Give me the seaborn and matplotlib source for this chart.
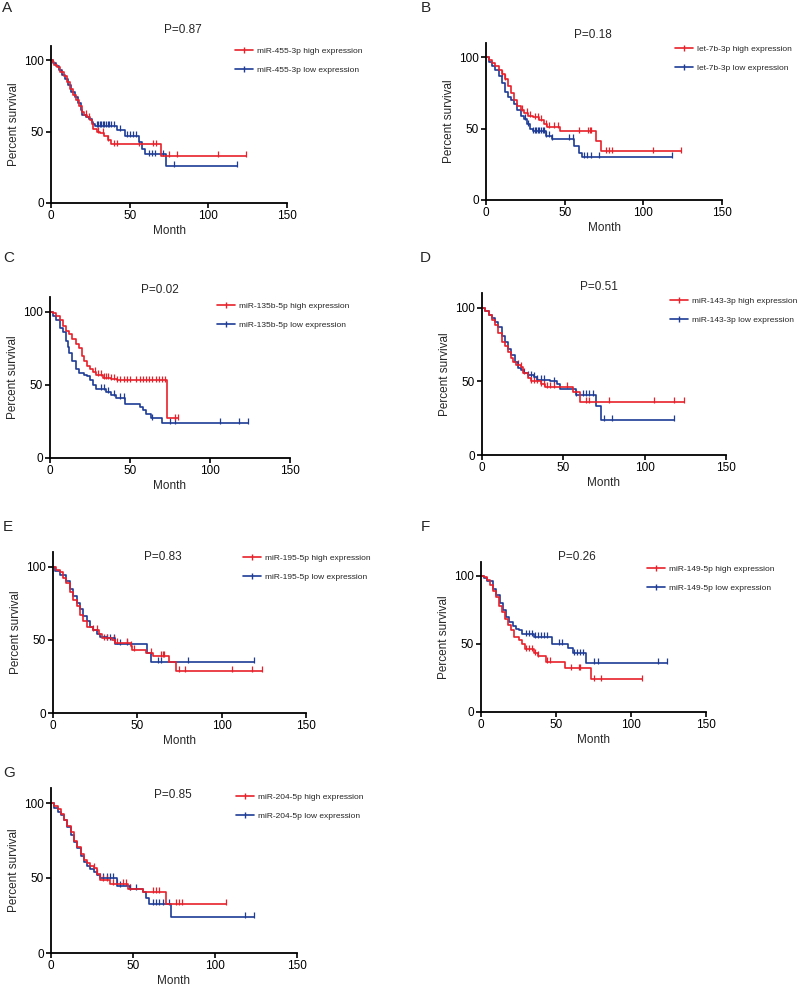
import numpy as np
import pandas as pd
import matplotlib
matplotlib.use("Agg")
import matplotlib.pyplot as plt
from matplotlib.lines import Line2D
import seaborn as sns

# panel labels, miRNA names and log-rank p values
letters = ["A", "B", "C", "D", "E", "F", "G"]
mirnas = ["miR-455-3p", "let-7b-3p", "miR-135b-5p", "miR-143-3p",
          "miR-195-5p", "miR-149-5p", "miR-204-5p"]
p_values = ["0.87", "0.18", "0.02", "0.51", "0.83", "0.26", "0.85"]

# Kaplan-Meier steps: (month, percent survival), last point = end of follow-up
A_high = [(0, 100), (1, 99), (2, 97), (4, 95), (6, 92), (8, 89), (10, 85), (12, 80), (14, 76), (16, 72),
          (18, 68), (20, 64), (21, 62), (23, 60), (25, 58), (26, 55), (27, 52), (29, 50), (31, 49),
          (34, 47), (36, 44), (38, 41), (70, 33), (124, 33)]
A_high_cens = [22, 24, 30, 33, 36, 40, 42, 56, 65, 67, 75, 80, 106, 124]
A_low = [(0, 100), (1, 98), (3, 96), (5, 93), (7, 90), (9, 87), (11, 83), (13, 78), (15, 74), (17, 70),
         (19, 65), (20, 62), (22, 60), (24, 59), (26, 57), (27, 55), (28, 54), (42, 51), (47, 47),
         (56, 43), (58, 38), (60, 34), (73, 26), (118, 26)]
A_low_cens = [29, 30, 31, 32, 33, 34, 35, 36, 37, 38, 40, 44, 48, 50, 52, 54, 62, 64, 66, 71, 78, 118]

B_high = [(0, 100), (2, 98), (4, 96), (6, 94), (8, 91), (10, 88), (12, 85), (14, 80), (16, 75), (18, 70),
          (20, 66), (22, 63), (24, 61), (27, 59), (30, 58), (34, 56), (37, 53), (39, 51), (47, 48),
          (70, 41), (73, 34), (124, 34)]
B_high_cens = [10, 12, 23, 26, 28, 31, 33, 35, 38, 40, 43, 46, 59, 65, 66, 67, 76, 78, 80, 106, 124]
B_low = [(0, 100), (2, 97), (4, 94), (6, 91), (8, 87), (10, 82), (12, 76), (14, 72), (16, 70), (18, 67),
         (20, 63), (22, 59), (24, 57), (26, 53), (28, 50), (30, 48), (38, 45), (42, 43), (56, 38),
         (59, 33), (61, 30), (118, 30)]
B_low_cens = [25, 27, 30, 31, 32, 33, 34, 35, 36, 37, 38, 40, 42, 53, 55, 62, 64, 67, 72, 118]

C_high = [(0, 100), (2, 99), (4, 97), (6, 94), (8, 90), (10, 87), (12, 85), (14, 81), (16, 78), (18, 75),
          (20, 70), (21, 66), (23, 63), (25, 61), (27, 59), (29, 57), (33, 55), (38, 54), (42, 53),
          (73, 27), (80, 27)]
C_high_cens = [28, 30, 32, 34, 35, 36, 38, 40, 42, 44, 46, 48, 50, 54, 56, 58, 60, 62, 64, 66, 68, 70,
               72, 78, 80]
C_low = [(0, 100), (2, 97), (4, 94), (6, 89), (8, 86), (10, 80), (11, 76), (12, 72), (14, 66), (16, 61),
         (18, 58), (21, 57), (23, 56), (25, 53), (27, 50), (29, 47), (35, 45), (38, 43), (41, 41),
         (47, 37), (56, 35), (58, 33), (60, 30), (63, 27), (70, 24), (124, 24)]
C_low_cens = [32, 34, 36, 40, 44, 46, 64, 75, 78, 106, 118, 124]

D_high = [(0, 100), (2, 98), (4, 95), (6, 92), (8, 88), (10, 83), (12, 77), (14, 74), (16, 70), (18, 66),
          (19, 63), (21, 61), (24, 60), (25, 56), (28, 52), (30, 50), (36, 48), (39, 46), (56, 43),
          (60, 36), (124, 36)]
D_high_cens = [22, 24, 26, 30, 32, 34, 36, 38, 40, 42, 44, 52, 64, 66, 78, 106, 118, 124]
D_low = [(0, 100), (2, 98), (4, 95), (6, 93), (8, 90), (10, 87), (12, 81), (14, 77), (16, 72), (18, 68),
         (20, 63), (22, 59), (24, 58), (26, 56), (28, 54), (32, 53), (34, 51), (42, 50), (46, 48),
         (48, 45), (58, 41), (70, 33), (73, 24), (118, 24)]
D_low_cens = [28, 30, 32, 34, 36, 38, 44, 58, 62, 64, 66, 68, 75, 80, 118]

E_high = [(0, 100), (2, 98), (4, 96), (6, 92), (8, 89), (10, 83), (12, 77), (14, 73), (16, 67), (18, 63),
          (20, 59), (24, 57), (27, 54), (29, 51), (35, 50), (37, 48), (46, 46), (47, 43), (55, 41),
          (59, 39), (69, 35), (73, 29), (124, 29)]
E_high_cens = [24, 26, 30, 32, 36, 38, 44, 46, 48, 58, 64, 65, 66, 75, 78, 106, 118, 124]
E_low = [(0, 100), (1, 97), (4, 94), (8, 90), (10, 85), (12, 80), (14, 75), (16, 71), (18, 66), (20, 63),
         (22, 59), (24, 57), (26, 54), (28, 52), (32, 51), (37, 47), (56, 41), (58, 35), (119, 35)]
E_low_cens = [32, 34, 36, 40, 44, 62, 64, 80, 119]

F_high = [(0, 100), (2, 99), (4, 97), (6, 93), (8, 89), (10, 84), (12, 78), (14, 73), (16, 68), (18, 64),
          (20, 60), (22, 55), (25, 53), (27, 50), (29, 46), (35, 43), (38, 41), (43, 37), (56, 32),
          (73, 24), (107, 24)]
F_high_cens = [30, 32, 34, 36, 38, 44, 46, 60, 65, 66, 75, 80, 107]
F_low = [(0, 100), (2, 98), (4, 96), (8, 90), (10, 86), (13, 80), (15, 75), (17, 70), (19, 66), (21, 63),
         (23, 61), (25, 60), (27, 57), (35, 55), (47, 50), (58, 47), (61, 43), (70, 36), (124, 36)]
F_low_cens = [30, 32, 34, 36, 38, 40, 42, 44, 52, 54, 62, 64, 66, 68, 75, 78, 118, 124]

G_high = [(0, 100), (2, 98), (4, 96), (6, 93), (8, 89), (10, 85), (12, 81), (14, 75), (16, 71), (18, 66),
          (20, 62), (22, 60), (24, 58), (26, 57), (28, 53), (30, 49), (36, 46), (47, 43), (56, 41),
          (70, 33), (107, 33)]
G_high_cens = [26, 28, 32, 34, 38, 40, 44, 46, 48, 62, 64, 66, 76, 78, 80, 107]
G_low = [(0, 100), (2, 97), (4, 94), (6, 92), (8, 89), (10, 84), (12, 79), (14, 74), (16, 70), (18, 65),
         (20, 61), (22, 58), (24, 56), (26, 54), (28, 52), (30, 50), (40, 45), (48, 43), (56, 41),
         (58, 37), (60, 33), (73, 24), (124, 24)]
G_low_cens = [30, 32, 34, 36, 38, 42, 48, 52, 62, 64, 66, 68, 72, 118, 124]

curves = [
    (A_high, A_high_cens, A_low, A_low_cens),
    (B_high, B_high_cens, B_low, B_low_cens),
    (C_high, C_high_cens, C_low, C_low_cens),
    (D_high, D_high_cens, D_low, D_low_cens),
    (E_high, E_high_cens, E_low, E_low_cens),
    (F_high, F_high_cens, F_low, F_low_cens),
    (G_high, G_high_cens, G_low, G_low_cens),
]

# layout in pixels: axes (left, x=150 edge, y=0 edge, top), title center, legend anchor, letter pos
W, H = 800, 986
axes_px = [(51, 287, 203, 46), (486, 722, 200, 43), (50, 290, 458, 297), (482, 726, 455, 293),
           (53, 306, 713, 552), (481, 706, 712, 562), (51, 297, 953, 788)]
title_px = [(183, 30), (593, 35), (160, 290), (599, 287), (163, 557), (577, 557), (173, 795)]
legend_px = [(235, 47), (675, 45), (217, 302), (670, 297), (243, 554), (647, 565), (236, 793)]
letter_px = [(2, 8), (421, 8), (3, 258), (420, 258), (3, 527), (421, 527), (3, 773)]

RED = "#E8202A"
BLUE = "#1E3C96"

sns.set_style("ticks")
plt.rcParams["font.family"] = ["Liberation Sans", "DejaVu Sans"]

fig = plt.figure(figsize=(W / 100, H / 100), dpi=100)


def step_value(points, t):
    ts = np.array([p[0] for p in points])
    ss = np.array([p[1] for p in points])
    idx = np.searchsorted(ts, t, side="right") - 1
    return ss[idx]


for i in range(7):
    l, r, b, t = axes_px[i]
    ax = fig.add_axes([l / W, 1 - b / H, (r - l) / W, (b - t) / H])
    high, high_c, low, low_c = curves[i]

    for pts, cens, col in [(low, low_c, BLUE), (high, high_c, RED)]:
        df = pd.DataFrame(pts, columns=["month", "survival"])
        sns.lineplot(data=df, x="month", y="survival", drawstyle="steps-post",
                     color=col, linewidth=1.2, errorbar=None, ax=ax)
        cdf = pd.DataFrame({"month": cens, "survival": [step_value(pts, c) + 1.2 for c in cens]})
        sns.scatterplot(data=cdf, x="month", y="survival", marker="|", s=14,
                        color=col, linewidth=0.9, ax=ax)

    ax.set_xlim(0, 150)
    ax.set_ylim(0, 110)
    ax.set_xticks([0, 50, 100, 150])
    ax.set_yticks([0, 50, 100])
    ax.tick_params(labelsize=8.5, length=3.5, width=1.2, pad=1.5, colors="black")
    for s in ["left", "bottom"]:
        ax.spines[s].set_linewidth(1.3)
        ax.spines[s].set_color("black")
    sns.despine(ax=ax)
    ax.spines["left"].set_bounds(0, 110)
    ax.set_xlabel("Month", fontsize=8.5, labelpad=2)
    ax.set_ylabel("Percent survival", fontsize=8.5, labelpad=3)

    tx, ty = title_px[i]
    fig.text(tx / W, 1 - ty / H, "P=" + p_values[i], fontsize=8.5, ha="center", va="center")
    fig.text(letter_px[i][0] / W, 1 - letter_px[i][1] / H, letters[i], fontsize=11,
             ha="left", va="center")

    handles = [Line2D([], [], color=RED, linewidth=1.2, marker="|", markersize=4),
               Line2D([], [], color=BLUE, linewidth=1.2, marker="|", markersize=4)]
    labels = [mirnas[i] + " high expression", mirnas[i] + " low expression"]
    lx, ly = legend_px[i]
    ax.legend(handles, labels, loc="upper left", bbox_to_anchor=(lx / W, 1 - ly / H),
              bbox_transform=fig.transFigure, frameon=False, fontsize=6, handlelength=2.2,
              handletextpad=0.4, labelspacing=1.4, borderpad=0, borderaxespad=0)

fig.savefig("out.png", dpi=100, facecolor="white")
